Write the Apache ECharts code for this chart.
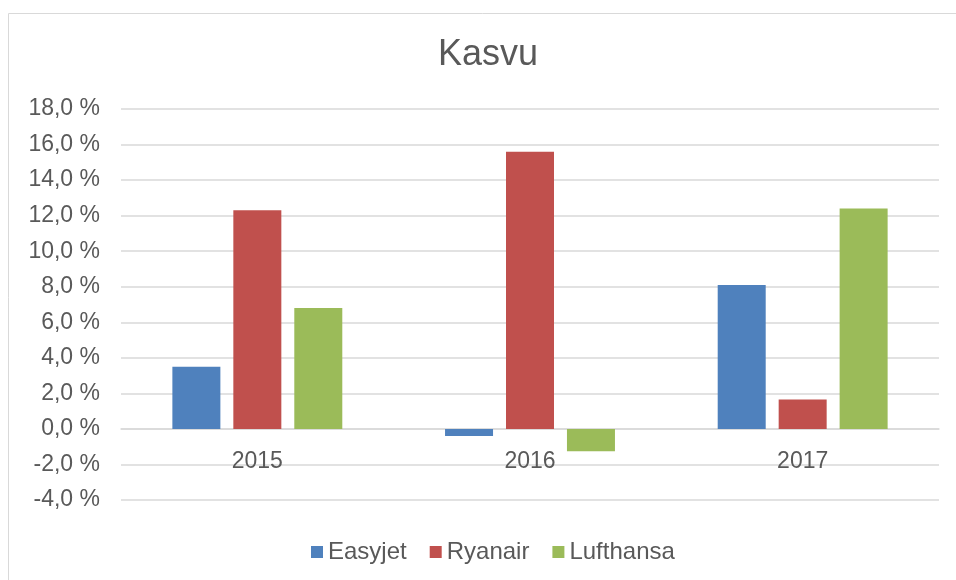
<!DOCTYPE html>
<html>
<head>
<meta charset="utf-8">
<script src="https://cdn.jsdelivr.net/npm/echarts@6/dist/echarts.min.js"></script>
<style>
  html, body { margin: 0; padding: 0; background: #fff; }
  #chart { width: 956px; height: 580px; }
</style>
</head>
<body>
<div id="chart"></div>
<script>
// data
const years = ["2015", "2016", "2017"];
const easyjet = [3.5, -0.4, 8.1];
const ryanair = [12.3, 15.6, 1.65];
const lufthansa = [6.8, -1.25, 12.4];

const textColor = "#595959";
const fontFamily = "Liberation Sans, Arial, sans-serif";

function pct(v) {
  return v.toFixed(1).replace(".", ",") + " %";
}

const myChart = echarts.init(document.getElementById("chart"));
myChart.setOption({
  animation: false,
  textStyle: { fontFamily: fontFamily },
  // outer chart frame, cut off at right and bottom like in the picture
  graphic: [
    {
      type: "rect",
      shape: { x: 8.5, y: 13.5, width: 980, height: 600 },
      style: { fill: "none", stroke: "#d9d9d9", lineWidth: 1 },
      silent: true,
    },
  ],
  title: {
    text: "Kasvu",
    left: 438,
    top: 37,
    padding: 0,
    textStyle: {
      fontSize: 36,
      fontWeight: "normal",
      color: textColor,
      fontFamily: fontFamily,
    },
  },
  legend: {
    left: 311,
    top: 540,
    padding: 0,
    icon: "rect",
    itemWidth: 12,
    itemHeight: 12,
    itemGap: 23,
    textStyle: { fontSize: 24, color: textColor },
    data: ["Easyjet", "Ryanair", "Lufthansa"],
  },
  grid: { left: 121, right: 17, top: 109, bottom: 80 },
  xAxis: {
    type: "category",
    data: years,
    // axis sits on the 0 % line (2 steps of 2 % above the bottom)
    offset: -71,
    axisLine: { onZero: false, show: true, lineStyle: { color: "#d9d9d9", width: 1.5 } },
    axisTick: { show: false },
    axisLabel: { fontSize: 23, color: textColor, margin: 21 },
  },
  yAxis: {
    type: "value",
    min: -4,
    max: 18,
    interval: 2,
    axisLine: { show: false },
    axisTick: { show: false },
    splitLine: { lineStyle: { color: "#d9d9d9", width: 1.5 } },
    axisLabel: {
      fontSize: 23,
      color: textColor,
      margin: 21,
      formatter: pct,
    },
  },
  series: [
    {
      name: "Easyjet",
      type: "bar",
      barWidth: 48,
      barGap: "27%",
      itemStyle: { color: "#4f81bd" },
      data: easyjet,
    },
    {
      name: "Ryanair",
      type: "bar",
      barWidth: 48,
      barGap: "27%",
      itemStyle: { color: "#c0504d" },
      data: ryanair,
    },
    {
      name: "Lufthansa",
      type: "bar",
      barWidth: 48,
      barGap: "27%",
      itemStyle: { color: "#9bbb59" },
      data: lufthansa,
    },
  ],
});
</script>
</body>
</html>
